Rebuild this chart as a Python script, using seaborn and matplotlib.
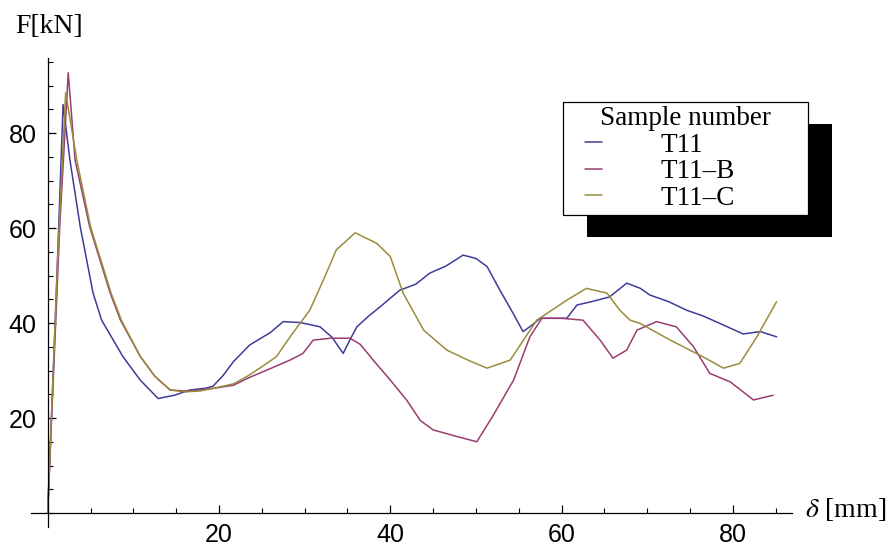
import matplotlib
matplotlib.use("Agg")
import matplotlib.pyplot as plt
import pandas as pd
import seaborn as sns
from matplotlib.lines import Line2D
from matplotlib.legend_handler import HandlerLine2D
from matplotlib.patches import Rectangle
from matplotlib.ticker import MultipleLocator

# Force–displacement curves of the three samples
samples = ["T11", "T11–B", "T11–C"]
colors = ["#3d3d99", "#993d71", "#998c3d"]

t11_x = [0, 1.0, 1.8, 2.6, 3.8, 5.3, 6.3, 8.8, 10.8, 12.9, 14.8, 16.6, 18.5, 19.3,
         20.5, 21.7, 23.6, 26.0, 27.5, 29.5, 31.8, 33.2, 34.5, 35.3, 36.1, 37.5,
         38.8, 41.1, 43.0, 44.6, 46.5, 48.5, 50.0, 51.3, 52.8, 54.2, 55.5, 56.5,
         57.5, 60.6, 61.8, 63.5, 65.6, 67.6, 69.2, 70.3, 72.5, 74.6, 76.5, 78.5,
         81.2, 83.2, 85.1]
t11_y = [0, 46, 86, 74.3, 60.3, 46.3, 40.6, 32.9, 28.0, 24.1, 24.8, 25.9, 26.3, 26.7,
         29.0, 31.9, 35.4, 38.0, 40.3, 40.1, 39.2, 37.0, 33.6, 36.5, 39.2, 41.5,
         43.4, 46.9, 48.2, 50.5, 52.0, 54.3, 53.6, 51.9, 46.9, 42.5, 38.2, 39.5,
         41.0, 41.0, 43.8, 44.5, 45.5, 48.4, 47.3, 45.9, 44.5, 42.7, 41.5, 39.9,
         37.7, 38.2, 37.1]

t11b_x = [0, 1.4, 2.4, 3.2, 4.9, 7.3, 8.5, 10.8, 12.5, 14.3, 16.0, 17.8, 19.5, 21.7,
          23.5, 25.6, 28.3, 29.8, 31.0, 33.0, 35.3, 36.5, 38.0, 40.0, 41.9, 43.5,
          45.0, 47.8, 50.1, 52.0, 54.4, 56.3, 57.7, 60.0, 62.5, 64.5, 66.0, 67.6,
          68.8, 71.1, 73.4, 75.4, 77.3, 79.7, 82.4, 84.7]
t11b_y = [0, 60, 92.7, 74.3, 60.3, 46.3, 40.6, 33.0, 28.8, 25.9, 25.7, 25.9, 26.3, 26.9,
          28.5, 30.1, 32.2, 33.6, 36.4, 36.8, 36.8, 35.5, 32.2, 28.0, 23.8, 19.5,
          17.5, 16.1, 15.0, 20.5, 28.0, 37.1, 41.0, 41.0, 40.6, 36.4, 32.6, 34.3,
          38.5, 40.3, 39.2, 35.0, 29.4, 27.6, 23.8, 24.8]

t11c_x = [0, 1.2, 2.1, 3.4, 5.0, 7.4, 8.6, 10.8, 12.5, 14.3, 16.0, 17.8, 19.5, 21.7,
          23.5, 25.0, 26.7, 28.3, 30.6, 32.2, 33.7, 35.9, 38.4, 40.0, 41.5, 43.9,
          46.6, 49.3, 51.3, 54.0, 57.1, 60.6, 62.9, 65.3, 66.8, 68.0, 69.2, 72.7,
          76.5, 78.9, 80.8, 82.8, 85.1]
t11c_y = [0, 55, 88.5, 74.3, 60.3, 46.3, 40.6, 33.0, 28.8, 25.9, 25.5, 25.7, 26.3, 27.2,
          29.0, 30.8, 32.9, 37.1, 42.7, 49.1, 55.4, 59.0, 56.8, 54.0, 46.3, 38.5,
          34.3, 32.0, 30.5, 32.2, 40.6, 44.8, 47.3, 46.3, 42.7, 40.6, 39.9, 36.4,
          32.9, 30.5, 31.5, 37.1, 44.5]

tick_values = [20, 40, 60, 80]
tick_labels = ["20", "40", "60", "80"]

frames = []
for name, xs, ys in zip(samples, [t11_x, t11b_x, t11c_x], [t11_y, t11b_y, t11c_y]):
    frames.append(pd.DataFrame({"delta": xs, "force": ys, "sample": name}))
df = pd.concat(frames, ignore_index=True)

sns.set_style("white")
plt.rcParams["font.family"] = ["Liberation Serif", "DejaVu Serif"]
plt.rcParams["mathtext.fontset"] = "stix"
plt.rcParams["text.color"] = "black"
plt.rcParams["axes.labelcolor"] = "black"
plt.rcParams["xtick.color"] = "black"
plt.rcParams["ytick.color"] = "black"

W, H = 896, 548
fig = plt.figure(figsize=(W / 100, H / 100), dpi=100)

# axes box in pixels: x from -1.9 to 86.9, y from -2.9 to 95.8
left_px, right_px, top_px, bottom_px = 31.4, 792.0, 58.0, 526.8
ax = fig.add_axes([left_px / W, 1 - bottom_px / H,
                   (right_px - left_px) / W, (bottom_px - top_px) / H])
ax.patch.set_visible(False)

sns.lineplot(data=df, x="delta", y="force", hue="sample", hue_order=samples,
             palette=dict(zip(samples, colors)), estimator=None, sort=False,
             linewidth=1.1, legend=False, ax=ax)

ax.set_xlim(-1.9, 86.9)
ax.set_ylim(-2.9, 95.8)
ax.set_xlabel("")
ax.set_ylabel("")

for side in ["top", "right"]:
    ax.spines[side].set_visible(False)
ax.spines["left"].set_position(("data", 0))
ax.spines["bottom"].set_position(("data", 0))
for side in ["left", "bottom"]:
    ax.spines[side].set_color("black")
    ax.spines[side].set_linewidth(0.9)

ax.set_xticks(tick_values, labels=tick_labels)
ax.set_yticks(tick_values, labels=tick_labels)
ax.xaxis.set_minor_locator(MultipleLocator(5))
ax.yaxis.set_minor_locator(MultipleLocator(5))
ax.tick_params(which="both", bottom=True, left=True, top=False, right=False)
ax.tick_params(which="major", direction="in", length=6, width=0.9, color="black",
               labelsize=18, labelcolor="black")
ax.tick_params(which="minor", direction="in", length=3.5, width=0.8, color="black")
ax.tick_params(axis="y", which="major", pad=8)
ax.tick_params(axis="x", which="major", pad=7)
for lbl in ax.get_xticklabels() + ax.get_yticklabels():
    lbl.set_fontfamily(["Liberation Sans Narrow", "Liberation Sans", "DejaVu Sans"])

fig.text(15 / W, 1 - 33 / H, "F[kN]", fontsize=20, ha="left", va="baseline")
fig.text(805 / W, 1 - 517 / H, r"$\delta$ [mm]", fontsize=20, ha="left", va="baseline")

# legend with a solid drop shadow
fs = 19.5
fs_px = fs * 100 / 72
handles = [Line2D([], [], color=c, linewidth=1.1) for c in colors]
leg = ax.legend(handles, samples, title="Sample number", loc="upper left",
                bbox_to_anchor=(563 / W, 1 - 213 / H, 245 / W, 111 / H),
                bbox_transform=fig.transFigure, mode="expand", borderaxespad=0,
                borderpad=0.15, labelspacing=0.06,
                handlelength=(602 - 567) / fs_px,
                handletextpad=(660 - 602) / fs_px,
                fancybox=False, framealpha=1, edgecolor="black",
                fontsize=fs, title_fontsize=fs,
                handler_map={Line2D: HandlerLine2D(xpad=(585 - 567) / fs_px)})
leg.get_frame().set_linewidth(0.9)
leg.get_title().set_color("black")
for t in leg.get_texts():
    t.set_color("black")
leg.set_zorder(6)

fig.canvas.draw()
bb = leg.get_window_extent()
inv = fig.transFigure.inverted()
fx0, fy0 = inv.transform((bb.x0 + 24, bb.y0 - 22))
fx1, fy1 = inv.transform((bb.x1 + 24, bb.y1 - 22))
ax.add_patch(Rectangle((fx0, fy0), fx1 - fx0, fy1 - fy0, transform=fig.transFigure,
                       facecolor="black", edgecolor="none", zorder=5, clip_on=False))

fig.savefig("out.png", dpi=100)
